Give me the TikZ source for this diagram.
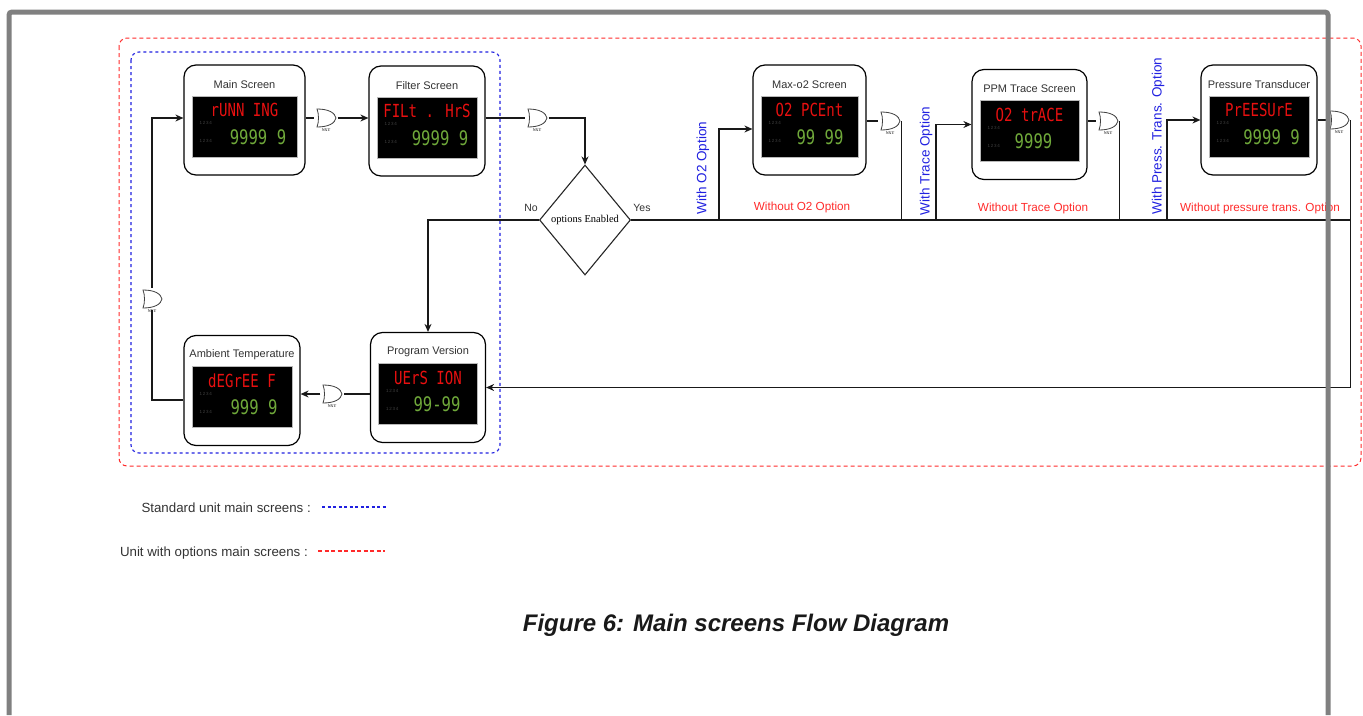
\documentclass[tikz,border=0pt]{standalone}
\usepackage{fontspec}
\setmainfont{Liberation Sans}
\newfontfamily\serifA{Liberation Serif}
\newfontfamily\segfont[FakeStretch=0.78]{DejaVu Sans Mono}
\usetikzlibrary{arrows.meta,calc,shapes.geometric}

\definecolor{segred}{HTML}{E81010}
\definecolor{seggreen}{HTML}{6FA83A}
\definecolor{optblue}{HTML}{2020E0}
\definecolor{optred}{HTML}{FF2A2A}
\definecolor{framegray}{HTML}{808080}
\definecolor{txt}{HTML}{333333}

\tikzset{
 scr/.style={draw=black, line width=1.2pt, rounded corners=12pt, fill=white, minimum height=110pt, inner sep=0pt},
 scrtitle/.style={font=\fontsize{11}{13}\selectfont, text=txt, inner sep=0pt},
 disp/.style={fill=black, draw=gray!55, line width=0.6pt, inner sep=0pt},
 segr/.style={font=\segfont\fontsize{18}{18}\selectfont, text=segred, inner sep=0pt},
 segg/.style={font=\segfont\fontsize{20}{20}\selectfont, text=seggreen, inner sep=0pt},
 num/.style={font=\fontsize{4.5}{5}\selectfont, text=gray!50!black, inner sep=0pt},
 conn/.style={draw=black!90, line width=1.1pt},
 arr/.style={conn, -{Stealth[length=8pt,width=7pt]}},
 nxtlab/.style={font=\serifA\bfseries\fontsize{4}{4}\selectfont, inner sep=0pt, text=black!80},
 nxt/.style={minimum width=23pt, minimum height=22pt, inner sep=0pt,
   path picture={\draw[shift={(path picture bounding box.center)}, line width=0.8pt, draw=black!75, fill=white]
     (-9,-9) .. controls (3,-9) and (9,-5) .. (10,0) .. controls (9,5) and (3,9) .. (-9,9)
     .. controls (-7,4) and (-7,-4) .. (-9,-9) -- cycle;},
   label={[nxtlab, yshift=1pt]below:NXT}},
 bluelab/.style={font=\fontsize{13.5}{15}\selectfont, text=optblue, inner sep=0pt, rotate=90},
 redlab/.style={font=\fontsize{11.7}{13}\selectfont, text=optred, inner sep=0pt},
 leg/.style={font=\fontsize{13.3}{16}\selectfont, text=txt, inner sep=0pt},
 legblue/.style={draw=optblue, dash pattern=on 3pt off 2.5pt, line width=1.3pt},
 legred/.style={draw=optred, dash pattern=on 4pt off 2.5pt, line width=1.3pt},
 decis/.style={diamond, draw=black!85, line width=1.1pt, minimum width=91pt, minimum height=110pt, inner sep=0pt, font=\serifA\fontsize{10.5}{12}\selectfont},
 yn/.style={font=\fontsize{10.5}{12}\selectfont, text=txt, inner sep=0pt},
}

% name, x, y, width, title, red, green, green x offset
\newcommand\scrbox[8]{%
 \node[scr, minimum width=#4pt] (#1) at (#2,#3) {};
 \node[scrtitle] (#1t) at ($(#1.north)+(0,20)$) {#5};
 \node[disp, minimum width=#4pt-16pt, minimum height=61pt] (#1d) at ($(#1.center)+(0,6.5)$) {};
 \node[segr] (#1r) at ($(#1.center)+(0,-10)$) {#6};
 \node[segg] (#1g) at ($(#1.center)+(#8,17)$) {#7};
 \node[num] (#1a) at ($(#1d.west)+(14,-3.5)$) {1\,2\,3\,4};
 \node[num] (#1b) at ($(#1d.west)+(14,14.5)$) {1\,2\,3\,4};
}

\begin{document}
\begin{tikzpicture}[x=1pt,y=-1pt]
\useasboundingbox (0,0) rectangle (1363,715);

% group boxes
\draw[optred, dash pattern=on 4pt off 3pt, line width=1pt, rounded corners=8pt] (119,38) rectangle (1361,466);
\draw[optblue, dash pattern=on 3pt off 3pt, line width=1.1pt, rounded corners=8pt] (131,52) rectangle (500,453);

% screens
\scrbox{main}{244.5}{120}{121}{Main Screen}{rUNN ING}{9999 9}{13.5}
\scrbox{filt}{427}{121}{116}{Filter Screen}{FILt . HrS}{9999 9}{13}
\scrbox{maxo}{809.5}{120}{113}{Max-o2 Screen}{O2 PCEnt}{99 99}{10.5}
\scrbox{ppm}{1029.5}{124.5}{115}{PPM Trace Screen}{O2 trACE}{9999}{4}
\scrbox{pres}{1259}{120}{116}{Pressure Transducer}{PrEESUrE}{9999 9}{12.5}
\scrbox{amb}{242}{390.5}{116}{Ambient Temperature}{dEGrEE F}{999 9}{12}
\scrbox{prog}{428}{387.5}{115}{Program Version}{UErS ION}{99-99}{9}

% decision
\node[decis] (dia) at (585,220) {options Enabled};
\node[yn] (no) at (531,208) {No};
\node[yn] (yes) at (642,208) {Yes};

% NXT buttons
\node[nxt] (n1) at (326,118) {};
\node[nxt] (n2) at (537,118) {};
\node[nxt] (n3) at (890,121) {};
\node[nxt] (n4) at (1108,121) {};
\node[nxt] (n5) at (1339,120) {};
\node[nxt] (n6) at (332,394) {};
\node[nxt] (n7) at (152,299) {};

% bus coordinates
\coordinate (busE) at (1351,220);
\coordinate (bO2) at (719,220);
\coordinate (bTr) at (936,220);
\coordinate (bPr) at (1167,220);

% connectors
\draw[conn] (main.east |- n1) -- (n1.west);
\draw[arr] (n1.east) -- (n1.east -| filt.west);
\draw[conn] (filt.east |- n2) -- (n2.west);
\draw[arr] (n2.east) -| (dia.north);
\draw[arr] (dia.west) -| (prog.north);
\draw[conn] (dia.east) -- (busE);
\draw[arr] (bO2) |- ($(maxo.west)+(0,9)$);
\draw[arr] (bTr) |- (ppm.west);
\draw[arr] (bPr) |- (pres.west);
\draw[conn] (maxo.east |- n3) -- (n3.west);
\draw[conn] (n3.east) -- (n3.east |- busE);
\draw[conn] (ppm.east |- n4) -- (n4.west);
\draw[conn] (n4.east) -- (n4.east |- busE);
\draw[conn] (pres.east |- n5) -- (n5.west);
\draw[arr] (n5.east) |- (prog.east);
\draw[conn] (prog.west |- n6) -- (n6.east);
\draw[arr] (n6.west) -- (n6.west -| amb.east);
\draw[conn] ($(amb.west)+(0,9.5)$) -| (n7.south);
\draw[arr] (n7.north) |- ($(main.west)+(0,-2)$);

% option labels
\node[bluelab] (lo2) at (703,168) {With O2 Option};
\node[bluelab] (ltr) at (926,161) {With Trace Option};
\node[bluelab] (lpr) at (1158,136) {With Press. Trans. Option};
\node[redlab] (wo2) at (802,207) {Without O2 Option};
\node[redlab] (wtr) at (1033,208) {Without Trace Option};
\node[redlab] (wpr) at (1260,208) {Without pressure trans. Option};

% legend
\node[leg, anchor=east] (lg1) at (311,508) {Standard unit main screens :};
\node[leg, anchor=east] (lg2) at (308,553) {Unit with options main screens :};
\coordinate (lb1) at (322,507);
\coordinate (lb2) at (386,507);
\coordinate (lr1) at (318,551);
\coordinate (lr2) at (385,551);
\draw[legblue] (lb1) -- (lb2);
\draw[legred] (lr1) -- (lr2);

% caption
\node[font=\bfseries\itshape\fontsize{24}{27}\selectfont, text=black!90, inner sep=0pt] (cap) at (736,625) {Figure 6: Main screens Flow Diagram};

% page frame
\draw[framegray, line width=5pt, rounded corners=3pt] (9,715) -- (9,12) -- (1328,12) -- (1328,715);
\end{tikzpicture}
\end{document}
